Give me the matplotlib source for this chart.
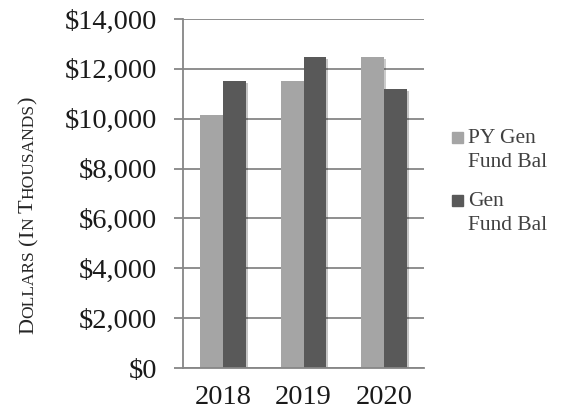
import numpy as np
import matplotlib
matplotlib.use('Agg')
import matplotlib.pyplot as plt
from matplotlib.patches import Rectangle
from matplotlib.ticker import FuncFormatter
import matplotlib.patheffects as pe

years = ['2018', '2019', '2020']
py_gen_fund = [10150, 11500, 12460]
gen_fund = [11510, 12460, 11190]
series_names = [['PY Gen', 'Fund Bal'], ['Gen', 'Fund Bal']]
colors = ['#a5a5a5', '#595959']

plt.rcParams['font.family'] = ['Liberation Serif', 'DejaVu Serif']

fig = plt.figure(figsize=(5.64, 4.17), dpi=100)
ax = fig.add_axes([183 / 564, 49 / 417, 241 / 564, 349 / 417])

x = np.arange(len(years))
w = 0.283
shadow = [pe.SimplePatchShadow(offset=(1.5, -1.5), alpha=0.25), pe.Normal()]
ax.bar(x - w / 2, py_gen_fund, w, color=colors[0], zorder=2, path_effects=shadow)
ax.bar(x + w / 2, gen_fund, w, color=colors[1], zorder=2, path_effects=shadow)

ax.set_xlim(-0.5, 2.5)
ax.set_ylim(0, 14000)
ax.set_yticks(np.arange(0, 14001, 2000))
ax.yaxis.set_major_formatter(FuncFormatter(lambda v, p: '${:,.0f}'.format(v)))
ax.set_xticks(x)
ax.set_xticklabels(years)

grey = '#868686'
ax.yaxis.grid(True, color=grey, linewidth=1.3, zorder=0)
ax.set_axisbelow(True)
for s in ['top', 'right']:
    ax.spines[s].set_visible(False)
for s in ['left', 'bottom']:
    ax.spines[s].set_color(grey)
    ax.spines[s].set_linewidth(1.3)
ax.tick_params(axis='y', length=6.5, width=1.3, color=grey, pad=12, labelsize=20.5,
               labelcolor='#1a1a1a')
ax.tick_params(axis='x', length=0, pad=12, labelsize=20.5, labelcolor='#1a1a1a')

# legend, drawn by hand so the square sits on the first line
leg_x = 452 / 564
for i, lines in enumerate(series_names):
    base = 417 - 143 - i * 63
    fig.add_artist(Rectangle((leg_x, base / 417), 11 / 564, 11 / 417,
                             transform=fig.transFigure, color=colors[i]))
    for j, line in enumerate(lines):
        fig.text(468 / 564, (base - j * 24) / 417, line, fontsize=15.5, color='#404040',
                 va='baseline', ha='left')

# y label in small caps
big, small = 16, 12.5
pieces = [('D', big), ('OLLARS', small), (None, 5), ('(', big), ('I', big), ('N', small),
          (None, 5), ('T', big), ('HOUSANDS', small), (')', big)]
fig.canvas.draw()
r = fig.canvas.get_renderer()
texts = []
total = 0
for s, size in pieces:
    if s is None:
        texts.append((None, size))
        total += size
        continue
    t = fig.text(0, 0, s, fontsize=size, rotation=90, rotation_mode='anchor',
                 ha='left', va='baseline', color='#262626')
    h = t.get_window_extent(r).height
    texts.append((t, h))
    total += h
y = 417 - 215 - total / 2
for t, h in texts:
    if t is not None:
        t.set_position((33 / 564, y / 417))
    y += h

fig.savefig('out.png', dpi=100)
